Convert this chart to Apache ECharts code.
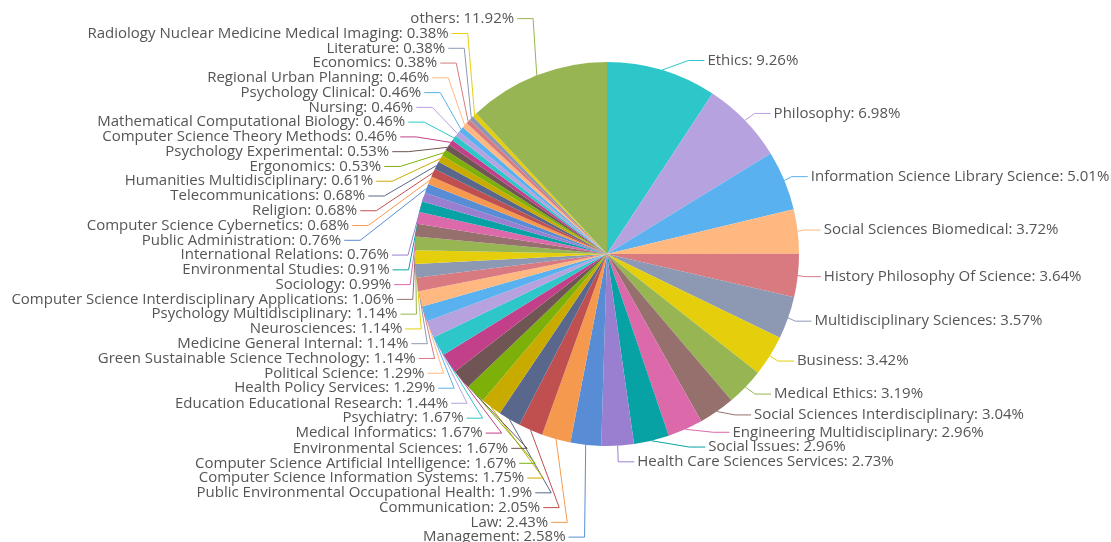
<!DOCTYPE html>
<html>
<head>
<meta charset="utf-8">
<script src="https://cdn.jsdelivr.net/npm/echarts@6/dist/echarts.min.js"></script>
<style>html,body{margin:0;padding:0;background:#fff}#c{width:1111px;height:542px}</style>
</head>
<body>
<div id="c"></div>
<script>
const categories = [
  "Ethics","Philosophy","Information Science Library Science","Social Sciences Biomedical",
  "History Philosophy Of Science","Multidisciplinary Sciences","Business","Medical Ethics",
  "Social Sciences Interdisciplinary","Engineering Multidisciplinary","Social Issues",
  "Health Care Sciences Services","Management","Law","Communication",
  "Public Environmental Occupational Health","Computer Science Information Systems",
  "Computer Science Artificial Intelligence","Environmental Sciences","Medical Informatics",
  "Psychiatry","Education Educational Research","Health Policy Services","Political Science",
  "Green Sustainable Science Technology","Medicine General Internal","Neurosciences",
  "Psychology Multidisciplinary","Computer Science Interdisciplinary Applications","Sociology",
  "Environmental Studies","International Relations","Public Administration",
  "Computer Science Cybernetics","Religion","Telecommunications","Humanities Multidisciplinary",
  "Ergonomics","Psychology Experimental","Computer Science Theory Methods",
  "Mathematical Computational Biology","Nursing","Psychology Clinical","Regional Urban Planning",
  "Economics","Literature","Radiology Nuclear Medicine Medical Imaging","others"
];
const values = [
  9.26,6.98,5.01,3.72,3.64,3.57,3.42,3.19,3.04,2.96,2.96,2.73,2.58,2.43,2.05,1.9,1.75,
  1.67,1.67,1.67,1.67,1.44,1.29,1.29,1.14,1.14,1.14,1.14,1.06,0.99,0.91,0.76,0.76,
  0.68,0.68,0.68,0.61,0.53,0.53,0.46,0.46,0.46,0.46,0.46,0.38,0.38,0.38,11.92
];
const palette = ['#2ec7c9','#b6a2de','#5ab1ef','#ffb980','#d87a80','#8d98b3','#e5cf0d','#97b552',
  '#95706d','#dc69aa','#07a2a4','#9a7fd1','#588dd5','#f5994e','#c05050','#59678c','#c9ab00',
  '#7eb00a','#6f5553','#c14089'];

// layout constants (pixels)
const VIEW_TOP = 0, VIEW_BOTTOM = 562, CX = 607, CY = 254, R = 192;
const LEN = 10, LEN2 = 16, DIST = 3, LH = 14.77, STEP = 8;

// Classic outside-label placement, derived from the slice angles
function computeLabels() {
  const total = values.reduce((a, b) => a + b, 0);
  let acc = 0;
  const items = values.map((v, i) => {
    const a0 = acc / total * Math.PI * 2; acc += v;
    const a1 = acc / total * Math.PI * 2;
    const mid = (a0 + a1) / 2;
    const dx = Math.sin(mid), dy = -Math.cos(mid);
    const x1 = CX + R * dx, y1 = CY + R * dy;
    const x2 = x1 + dx * LEN, y2 = y1 + dy * LEN;
    const x3 = x2 + (dx < 0 ? -1 : 1) * LEN2, y3 = y2;
    return { i, x: x3 + (dx < 0 ? -DIST : DIST), y: y3, height: LH,
      linePoints: [[x1, y1], [x2, y2], [x3, y3]] };
  });
  const left = [], right = [];
  items.forEach(it => (it.x < CX ? left : right).push(it));
  adjustSide(right, 1);
  adjustSide(left, -1);
  items.forEach(it => {
    const lp = it.linePoints;
    const dist = lp[1][0] - lp[2][0];
    lp[2][0] = it.x < CX ? it.x + DIST : it.x - DIST;
    lp[1][0] = lp[2][0] + dist;
    lp[1][1] = lp[2][1] = it.y;
  });
  return items;
}
function adjustSide(list, dir) {
  list.sort((a, b) => a.y - b.y);
  function shiftDown(start, end, delta) {
    for (let j = start; j < end; j++) {
      if (list[j].y + delta > VIEW_BOTTOM) break;
      list[j].y += delta;
      if (j > start && j + 1 < end && list[j + 1].y > list[j].y + list[j].height) {
        shiftUp(j, delta / 2);
        return;
      }
    }
    shiftUp(end - 1, delta / 2);
  }
  function shiftUp(end, delta) {
    for (let j = end; j >= 0; j--) {
      if (list[j].y - delta < VIEW_TOP) break;
      list[j].y -= delta;
      if (j > 0 && list[j].y > list[j - 1].y + list[j - 1].height) break;
    }
  }
  function changeX(sub, isDown) {
    let last = isDown ? Number.MAX_VALUE : 0;
    const RR = R + LEN + LEN2;
    for (let k = 0; k < sub.length; k++) {
      const dY = Math.abs(sub[k].y - CY);
      let dX = dY < R + LEN ? Math.sqrt(RR * RR - dY * dY) : Math.abs(sub[k].x - CX);
      if (isDown && dX >= last) dX = last - STEP;
      if (!isDown && dX <= last) dX = last + STEP;
      sub[k].x = CX + dX * dir;
      last = dX;
    }
  }
  let lastY = 0;
  for (let i = 0; i < list.length; i++) {
    const d = list[i].y - lastY;
    if (d < 0) shiftDown(i, list.length, -d);
    lastY = list[i].y + list[i].height;
  }
  if (VIEW_BOTTOM - lastY < 0) shiftUp(list.length - 1, lastY - VIEW_BOTTOM);
  const up = [], down = [];
  list.forEach(it => (it.y >= CY ? down : up).push(it));
  changeX(up, false);
  changeX(down, true);
}
const labelPos = computeLabels();

const chart = echarts.init(document.getElementById('c'), null, {renderer:'canvas'});
chart.setOption({
  animation: false,
  color: palette,
  series: [{
    type: 'pie',
    center: [CX, CY],
    radius: R,
    startAngle: 90,
    clockwise: true,
    avoidLabelOverlap: false,
    label: {
      formatter: '{b}: {c}%',
      color: '#555',
      fontSize: 15,
      fontFamily: 'Open Sans',
      overflow: 'none'
    },
    labelLine: { length: LEN, length2: LEN2, smooth: false },
    labelLayout: function (p) {
      const L = labelPos[p.dataIndex];
      return {
        x: L.x, y: L.y,
        align: L.x < CX ? 'right' : 'left',
        verticalAlign: 'middle',
        labelLinePoints: L.linePoints
      };
    },
    data: categories.map((n, i) => ({ name: n, value: values[i] }))
  }]
});
</script>
</body>
</html>
